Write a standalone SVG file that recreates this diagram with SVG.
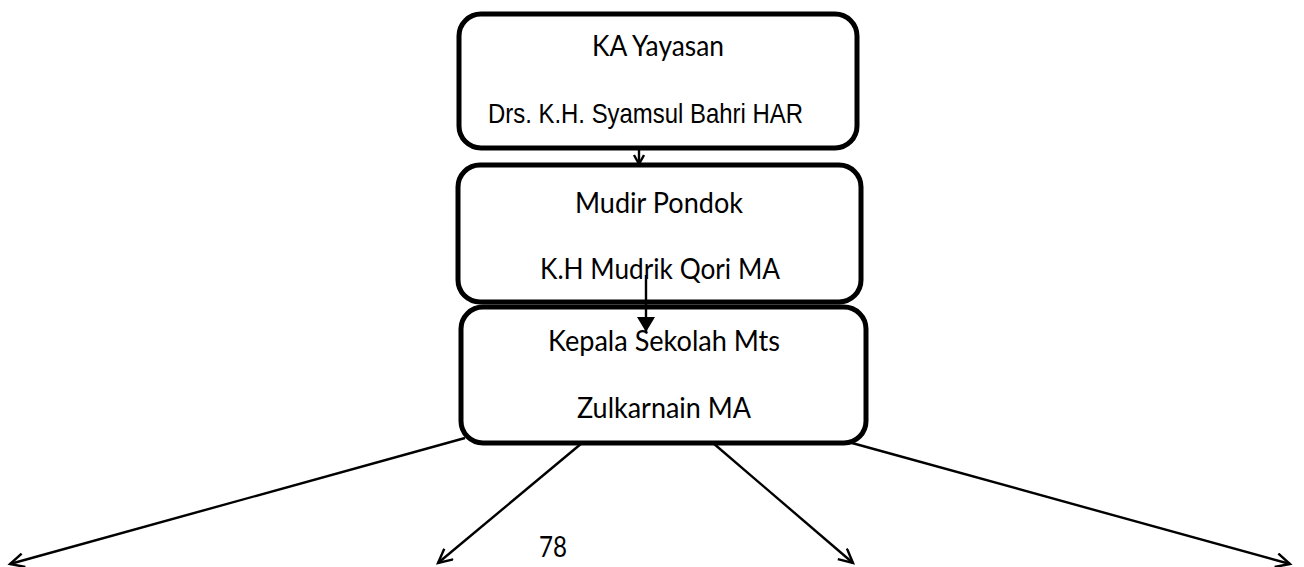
<svg xmlns="http://www.w3.org/2000/svg" width="1304" height="567" viewBox="0 0 1304 567">
<style>
.box{fill:#fff;stroke:#000;stroke-width:5}
.cal{font-family:Lato,"Open Sans","Noto Sans",sans-serif;font-size:28px;fill:#000}
.ari{font-family:"Liberation Sans",Arial,sans-serif;font-size:28px;fill:#000}
.ln{stroke:#000;stroke-width:2.4;fill:none}
</style>
<defs>
<marker id="open" markerUnits="userSpaceOnUse" markerWidth="20" markerHeight="20" refX="15" refY="8" orient="auto">
<path d="M1,1 L15,8 L1,15" fill="none" stroke="#000" stroke-width="2.4"/>
</marker>
<marker id="small" markerUnits="userSpaceOnUse" markerWidth="14" markerHeight="14" refX="10" refY="6" orient="auto">
<path d="M1,1 L10,6 L1,11" fill="none" stroke="#000" stroke-width="2.4"/>
</marker>
<marker id="fill" markerUnits="userSpaceOnUse" markerWidth="20" markerHeight="20" refX="15" refY="9" orient="auto">
<path d="M0,0 L15,9 L0,18 Z" fill="#000"/>
</marker>
</defs>
<g id="node-yayasan">
<rect class="box" x="459" y="14" width="398" height="134" rx="22"/>
<text class="cal" x="592" y="56" textLength="132" lengthAdjust="spacingAndGlyphs">KA Yayasan</text>
<text class="ari" x="488" y="123" textLength="315" lengthAdjust="spacingAndGlyphs">Drs. K.H. Syamsul Bahri HAR</text>
</g>
<g id="node-mudir">
<rect class="box" x="458" y="165" width="403" height="137" rx="22"/>
<text class="cal" x="575" y="213" textLength="168" lengthAdjust="spacingAndGlyphs">Mudir Pondok</text>
<text class="cal" x="540" y="279" textLength="240" lengthAdjust="spacingAndGlyphs">K.H Mudrik Qori MA</text>
</g>
<g id="node-kepala">
<rect class="box" x="461" y="307" width="405" height="136" rx="22"/>
<text class="cal" x="548" y="351" textLength="232" lengthAdjust="spacingAndGlyphs">Kepala Sekolah Mts</text>
<text class="cal" x="577" y="418" textLength="174" lengthAdjust="spacingAndGlyphs">Zulkarnain MA</text>
</g>
<g id="connectors">
<line class="ln" x1="639" y1="150" x2="639" y2="164" marker-end="url(#small)"/>
<line class="ln" x1="646" y1="275" x2="646" y2="332" marker-end="url(#fill)"/>
<line class="ln" x1="465" y1="438" x2="10" y2="564" marker-end="url(#open)"/>
<line class="ln" x1="582" y1="443" x2="438" y2="563" marker-end="url(#open)"/>
<line class="ln" x1="713" y1="443" x2="853" y2="563" marker-end="url(#open)"/>
<line class="ln" x1="852" y1="443" x2="1290" y2="564" marker-end="url(#open)"/>
</g>
<text id="page-number" class="cal" x="539" y="557" textLength="28" lengthAdjust="spacingAndGlyphs">78</text>
</svg>
